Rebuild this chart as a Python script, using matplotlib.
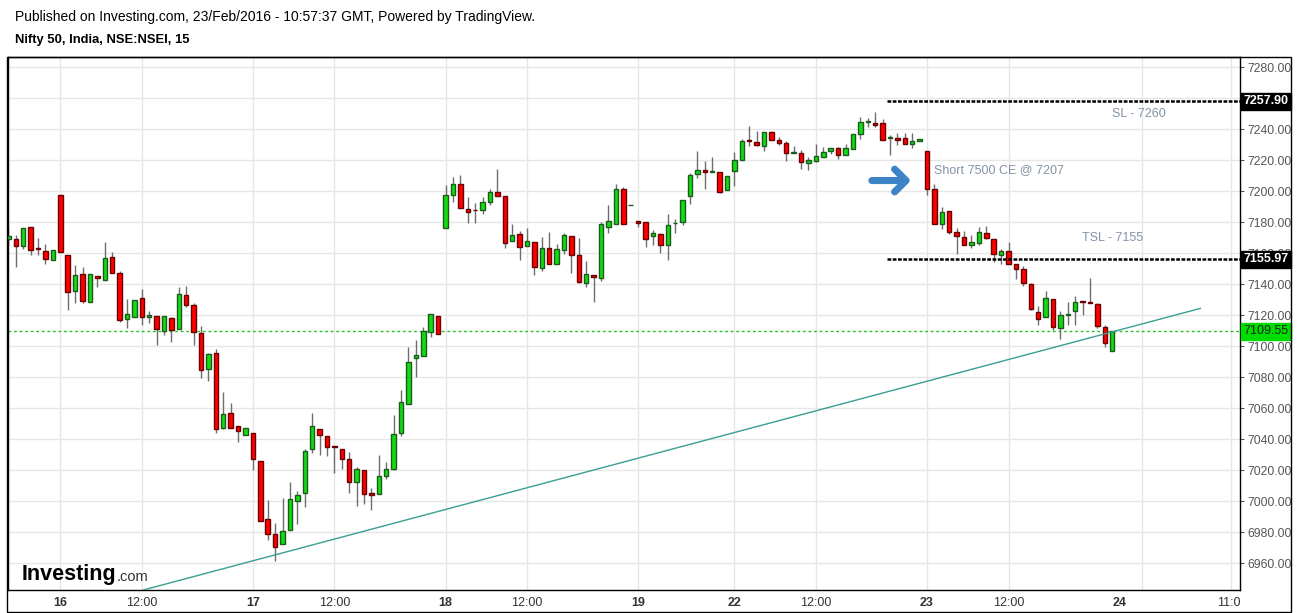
import numpy as np
import matplotlib
matplotlib.use('Agg')
import matplotlib.pyplot as plt
from matplotlib.patches import Rectangle

plt.rcParams['font.family'] = ['Liberation Sans', 'DejaVu Sans']

# 15 minute bars, index 0 = 16 Feb 09:15 (bars before it belong to 15 Feb)
first_bar = -7
opens = [7169.3, 7169.3, 7164.7, 7177.0, 7163.0, 7161.5, 7155.7,
         7197.6, 7158.9, 7135.7, 7146.7, 7128.6, 7145.4, 7142.8, 7157.6, 7147.3, 7117.4,
         7118.7, 7131.0, 7118.7, 7119.4, 7109.7, 7118.1, 7111.0, 7132.9, 7126.5, 7108.4,
         7085.2, 7095.5, 7047.1, 7056.8, 7048.4, 7042.6,
         7043.9, 7025.8, 6988.4, 6978.7, 6972.3, 6981.3, 7000.0, 7005.2, 7033.6, 7046.5,
         7041.9, 7035.5, 7033.6, 7027.1, 7012.1, 7020.0, 7005.2, 7004.5, 7016.2, 7020.7,
         7043.9, 7062.6, 7092.3, 7093.6, 7109.0, 7119.4,
         7176.1, 7197.4, 7204.5, 7188.4, 7187.8, 7187.7, 7192.9, 7199.4, 7196.8, 7167.8,
         7172.3, 7164.5, 7167.1, 7150.3, 7163.2, 7152.9, 7161.9, 7171.0, 7158.7, 7140.7,
         7145.8, 7143.9, 7176.8, 7178.7, 7201.3, 7190.8,
         7180.7, 7180.0, 7171.0, 7172.3, 7165.2, 7179.2, 7180.0, 7196.8, 7211.0, 7213.6,
         7212.5, 7212.3, 7200.7,
         7212.9, 7220.0, 7232.9, 7231.6, 7229.0, 7238.1, 7232.9, 7231.0, 7224.7, 7224.5,
         7218.1, 7219.4, 7221.9, 7225.8, 7227.7, 7223.2, 7227.1, 7236.8, 7244.7, 7243.9,
         7243.9, 7234.4, 7234.2, 7234.2, 7230.3, 7232.3,
         7225.8, 7201.3, 7178.7, 7187.1, 7173.6, 7170.3, 7165.2, 7166.5, 7172.9, 7169.0,
         7158.7, 7161.3, 7152.9, 7149.7, 7140.0, 7121.9, 7118.7, 7130.3, 7111.6, 7120.0,
         7122.6, 7129.0, 7128.4, 7127.1, 7112.3, 7096.5]
highs = [7175.1, 7171.4, 7176.4, 7177.0, 7169.5, 7165.6, 7162.2,
         7197.6, 7158.9, 7152.5, 7151.2, 7146.7, 7145.4, 7166.9, 7160.4, 7148.4, 7130.3,
         7129.7, 7136.8, 7122.6, 7119.4, 7119.4, 7118.7, 7138.3, 7138.9, 7127.7, 7112.9,
         7095.5, 7098.1, 7070.3, 7063.2, 7048.4, 7047.1,
         7043.9, 7025.8, 7000.7, 6985.8, 7001.9, 7012.3, 7006.5, 7033.6, 7056.8, 7046.5,
         7041.9, 7035.5, 7033.6, 7031.9, 7021.7, 7020.0, 7008.4, 7029.7, 7025.2, 7055.5,
         7071.6, 7099.4, 7103.9, 7112.3, 7120.6, 7119.4,
         7203.9, 7209.0, 7210.3, 7196.1, 7192.3, 7196.1, 7201.3, 7214.2, 7196.8, 7178.7,
         7174.2, 7176.1, 7167.1, 7170.3, 7173.6, 7165.8, 7172.9, 7171.0, 7169.7, 7154.8,
         7145.8, 7180.0, 7191.0, 7204.5, 7202.6, 7191.0,
         7180.7, 7180.0, 7174.8, 7172.9, 7185.2, 7182.0, 7194.2, 7211.6, 7225.8, 7219.4,
         7221.9, 7212.3, 7209.7,
         7225.2, 7233.6, 7242.2, 7238.7, 7238.1, 7238.7, 7234.8, 7232.3, 7229.0, 7226.5,
         7221.9, 7230.3, 7228.4, 7227.7, 7228.4, 7230.3, 7236.8, 7247.7, 7247.1, 7251.0,
         7246.5, 7236.1, 7237.4, 7237.4, 7237.4, 7233.6,
         7225.8, 7204.5, 7189.7, 7187.1, 7176.1, 7174.2, 7171.6, 7176.8, 7177.4, 7169.0,
         7162.6, 7167.1, 7152.9, 7151.6, 7140.7, 7125.8, 7135.5, 7130.3, 7122.6, 7128.4,
         7132.3, 7129.0, 7143.9, 7127.7, 7113.6, 7109.55]
lows = [7164.5, 7151.0, 7162.6, 7158.7, 7158.7, 7152.9, 7155.7,
        7160.7, 7123.2, 7127.8, 7127.8, 7128.6, 7138.1, 7142.8, 7147.3, 7115.5, 7111.4,
        7118.7, 7113.6, 7114.8, 7100.7, 7107.1, 7102.6, 7111.0, 7125.2, 7100.7, 7079.4,
        7077.4, 7043.9, 7046.5, 7047.1, 7038.1, 7042.6,
        7020.0, 6987.1, 6974.9, 6961.3, 6972.3, 6981.3, 6985.2, 6996.1, 7031.0, 7029.7,
        7029.0, 7018.0, 7020.5, 7005.0, 6996.6, 6997.9, 6994.0, 7004.5, 7014.2, 7020.0,
        7042.0, 7062.6, 7080.0, 7093.6, 7105.8, 7107.7,
        7176.1, 7192.9, 7189.0, 7179.4, 7179.4, 7185.2, 7191.0, 7196.8, 7163.2, 7167.8,
        7155.5, 7164.5, 7145.8, 7148.4, 7152.9, 7152.9, 7159.4, 7147.1, 7140.7, 7138.1,
        7128.4, 7142.0, 7172.9, 7178.7, 7178.7, 7190.8,
        7176.8, 7163.9, 7165.2, 7160.0, 7155.5, 7172.9, 7178.1, 7191.6, 7208.4, 7201.3,
        7212.3, 7198.7, 7200.7,
        7203.2, 7220.0, 7229.0, 7229.0, 7225.8, 7232.9, 7229.7, 7219.4, 7224.5, 7214.2,
        7213.6, 7218.7, 7221.9, 7223.9, 7220.7, 7223.2, 7227.1, 7233.6, 7241.3, 7241.3,
        7232.9, 7223.2, 7229.7, 7230.3, 7227.7, 7232.3,
        7197.4, 7178.7, 7175.5, 7172.3, 7159.4, 7165.2, 7163.2, 7165.2, 7169.0, 7154.2,
        7152.9, 7152.9, 7143.2, 7138.7, 7123.2, 7113.6, 7118.7, 7110.3, 7104.5, 7113.6,
        7113.6, 7120.0, 7127.7, 7111.6, 7099.4, 7096.5]
closes = [7171.2, 7164.7, 7176.4, 7162.2, 7162.6, 7156.1, 7162.2,
          7160.7, 7134.9, 7146.0, 7129.3, 7146.7, 7143.9, 7157.0, 7147.3, 7117.0, 7120.7,
          7129.7, 7118.7, 7120.0, 7111.0, 7119.4, 7110.1, 7133.6, 7126.5, 7109.0, 7084.5,
          7094.9, 7046.5, 7056.2, 7047.1, 7045.2, 7047.1,
          7027.1, 6987.1, 6978.7, 6970.3, 6980.7, 7001.3, 7003.9, 7032.3, 7048.4, 7042.6,
          7034.8, 7034.8, 7027.1, 7012.1, 7020.7, 7004.5, 7003.9, 7016.2, 7020.7, 7043.2,
          7063.9, 7089.7, 7094.2, 7109.7, 7120.6, 7107.7,
          7197.4, 7204.5, 7189.0, 7186.5, 7187.5, 7192.9, 7199.4, 7196.8, 7166.5, 7171.6,
          7163.9, 7167.8, 7151.0, 7163.2, 7152.9, 7162.6, 7171.6, 7158.7, 7141.3, 7146.5,
          7144.5, 7178.7, 7180.7, 7201.3, 7178.7, 7191.0,
          7179.4, 7169.0, 7172.9, 7165.2, 7178.1, 7179.4, 7194.2, 7210.3, 7213.6, 7212.3,
          7212.7, 7199.4, 7209.7,
          7220.0, 7232.3, 7232.3, 7229.7, 7238.1, 7232.9, 7231.0, 7224.5, 7225.0, 7218.7,
          7220.0, 7222.6, 7225.2, 7227.7, 7223.2, 7227.7, 7236.8, 7244.5, 7245.2, 7242.6,
          7232.9, 7234.6, 7232.9, 7230.3, 7232.3, 7233.6,
          7201.3, 7178.7, 7186.5, 7173.6, 7171.0, 7165.2, 7167.1, 7173.6, 7169.7, 7159.4,
          7161.3, 7152.9, 7149.7, 7140.7, 7123.9, 7117.4, 7131.0, 7112.3, 7120.0, 7120.7,
          7128.4, 7128.4, 7127.7, 7112.9, 7102.0, 7109.55]

tick_pos = [0, 11, 26, 37, 52, 63, 78, 91, 102, 117, 128, 143, 157.8]
tick_labels = ['16', '12:00', '17', '12:00', '18', '12:00', '19', '22', '12:00', '23', '12:00', '24', '11:0']
grid_x = [0, 11, 26, 37, 52, 63, 78, 91, 102, 117, 128, 146.0, 158.0]

last_price = 7109.55
sl_price = 7257.90
tsl_price = 7155.97
trend_x = [11.2, 153.9]
trend_y = [6942.6, 7124.3]

o = np.array(opens); h = np.array(highs); l = np.array(lows); c = np.array(closes)
x = np.arange(first_bar, first_bar + len(o))
up = c >= o

W, H = 1297, 613
fig = plt.figure(figsize=(W / 100, H / 100), dpi=100)
ax = fig.add_axes([8 / W, 1 - 590 / H, (1240 - 8) / W, (590 - 57) / H])
ax.set_xlim(-7.06, 159.25)
ax.set_ylim(6942.6, 7286.5)

grid_col = '#e6e6e6'
for gx in grid_x:
    ax.axvline(gx, color=grid_col, lw=1, zorder=0)
yt = np.arange(6960, 7281, 20)
for gy in yt:
    ax.axhline(gy, color=grid_col, lw=1, zorder=0)

# candles
ax.vlines(x, l, h, color='#6e6e6e', lw=1, zorder=2)
body_h = np.maximum(np.abs(c - o), 0.25)
ax.bar(x, body_h, bottom=np.minimum(o, c), width=0.6,
       color=np.where(up, '#11dd11', '#ff0000'),
       edgecolor=np.where(up, '#1d5a1d', '#6a0000'), linewidth=1, zorder=3)

# trend line, last price, stop levels
ax.plot(trend_x, trend_y, color='#3a9e92', lw=1, zorder=4)
ax.axhline(last_price, color='#22c422', lw=1, ls=(0, (2, 2)), zorder=1)
ax.hlines([sl_price, tsl_price], 111.6, 159.25, color='black', lw=1.8,
          ls=(0, (1.5, 0.6)), zorder=4)

note_col = '#8393a6'
ax.text(117.9, 7213.5, 'Short 7500 CE @ 7207', color=note_col, fontsize=9,
        va='center', ha='left')
ax.text(145.6, 7249.7, 'SL - 7260', color=note_col, fontsize=9, va='center', ha='center')
ax.text(142.0, 7169.7, 'TSL - 7155', color=note_col, fontsize=9, va='center', ha='center')
ax.text(111.9, 7206.0, '\u279c', family='DejaVu Sans', color='#3d84c6', fontsize=42,
        va='center', ha='center')

# axes styling
for s in ax.spines.values():
    s.set_color('black')
    s.set_linewidth(1)
ax.yaxis.tick_right()
ax.set_yticks(yt)
ax.set_yticklabels(['%.2f' % v for v in yt])
ax.tick_params(axis='y', colors='#555555', labelsize=8.7, length=3, pad=2)
ax.set_xticks(tick_pos)
ax.set_xticklabels(tick_labels)
ax.tick_params(axis='x', colors='#333333', labelsize=9, length=0, pad=5)
for lab in ax.get_xticklabels():
    if ':' not in lab.get_text():
        lab.set_fontweight('bold')

# price tags on the right scale
tag_tr = ax.get_yaxis_transform()
for val, bg, fg, wt in [(sl_price, 'black', 'white', 'bold'),
                        (tsl_price, 'black', 'white', 'bold'),
                        (last_price, '#00dd00', '#222222', 'normal')]:
    ax.text(1.0025, val, '%.2f' % val, transform=tag_tr, color=fg, fontsize=9,
            fontweight=wt, va='center', ha='left', zorder=10, clip_on=False,
            bbox=dict(boxstyle='square,pad=0.2', fc=bg, ec=bg))

# outer frame
fig.add_artist(Rectangle((7 / W, 1 / H), (1291 - 7) / W, (612 - 57) / H,
                         transform=fig.transFigure, fill=False, ec='black', lw=1))

fig.text(15 / W, 1 - 17 / H, 'Published on Investing.com, 23/Feb/2016 - 10:57:37 GMT, Powered by TradingView.',
         fontsize=10, va='center', ha='left', color='black')
fig.text(15 / W, 1 - 40 / H, 'Nifty 50, India, NSE:NSEI, 15', fontsize=9.4, fontweight='bold',
         va='center', ha='left', color='black')

logo = fig.text(22 / W, 1 - 580 / H, 'Investing', fontsize=15.5, fontweight='bold',
                va='baseline', ha='left', color='black')
ax.annotate('.com', xy=(1, 0), xycoords=logo, xytext=(0, 0.5), textcoords='offset points',
            fontsize=10.5, va='bottom', ha='left', color='#333333', annotation_clip=False)

fig.savefig('out.png', dpi=100, facecolor='white')
